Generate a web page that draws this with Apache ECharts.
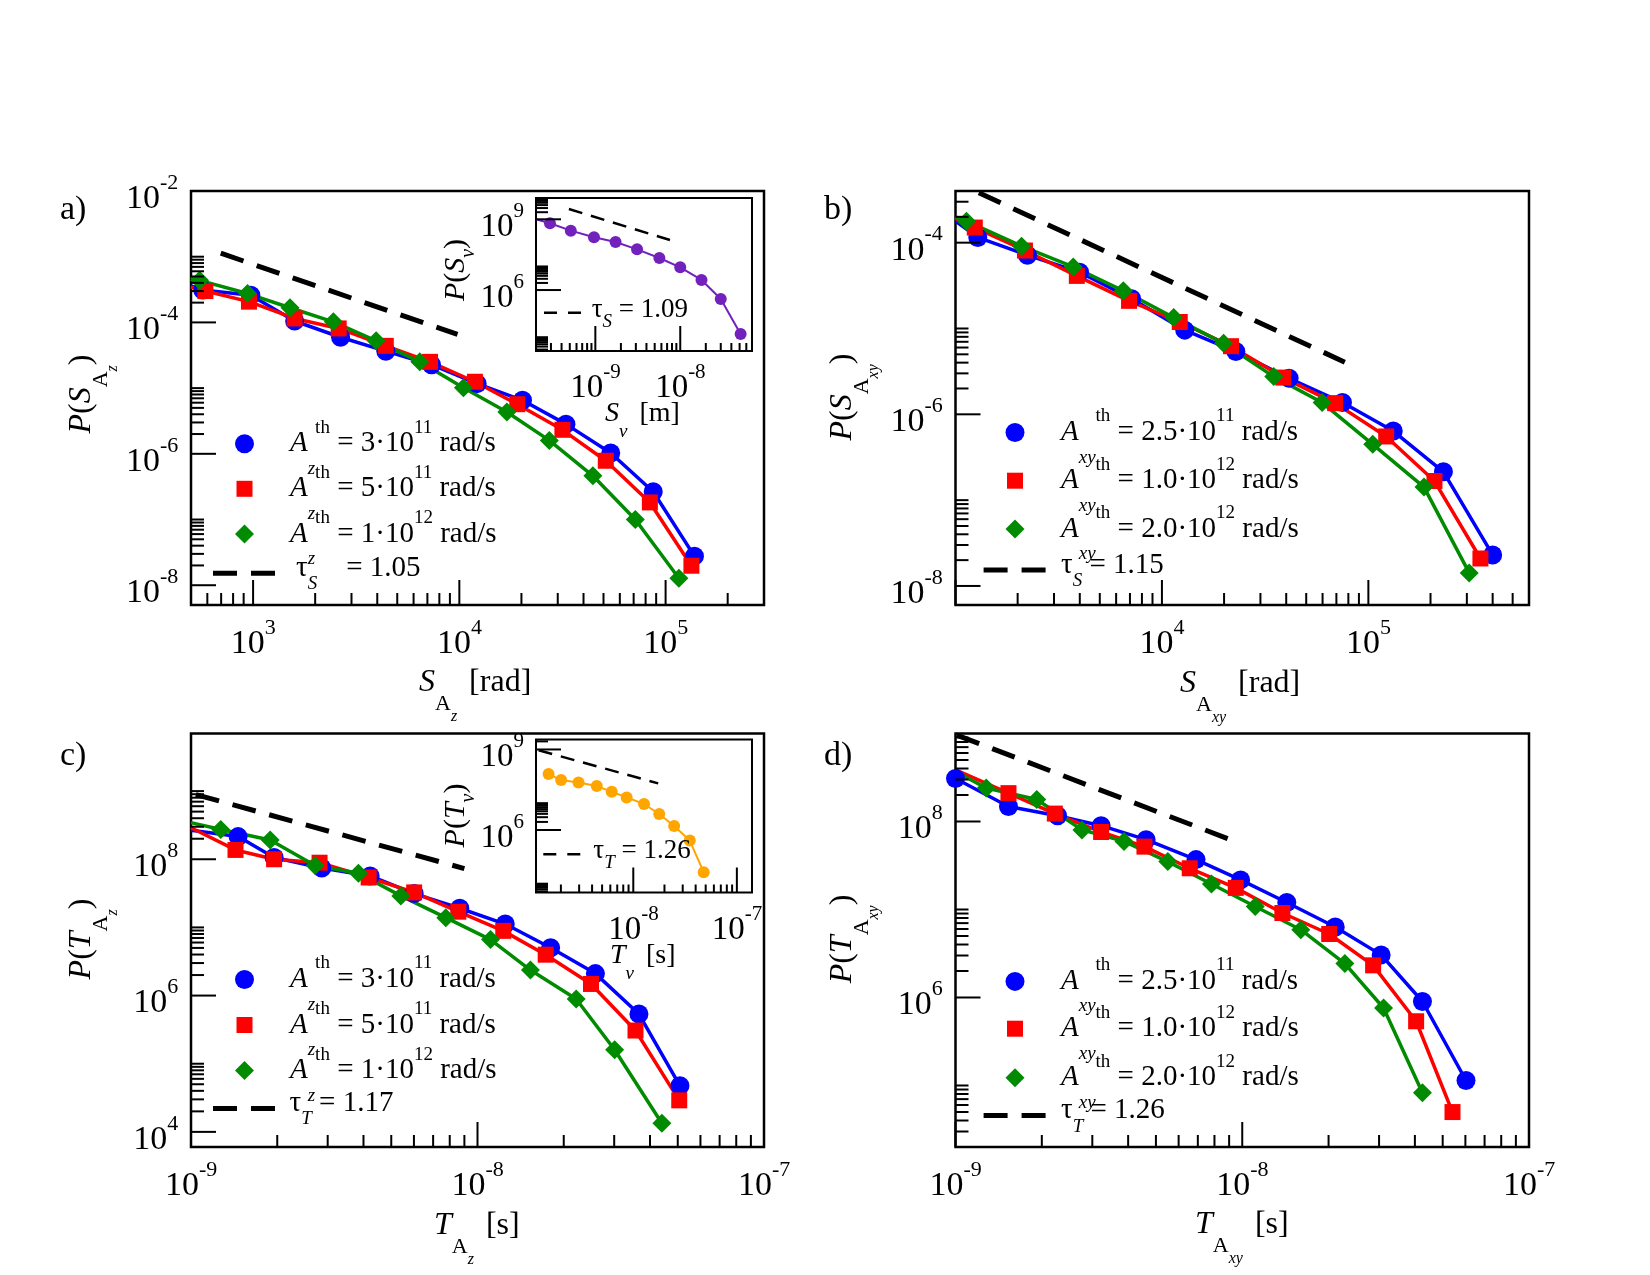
<!DOCTYPE html>
<html>
<head>
<meta charset="utf-8">
<script src="https://cdn.jsdelivr.net/npm/echarts@6/dist/echarts.min.js"></script>
<style>
  html, body { margin: 0; padding: 0; background: #fff; }
  #chart { width: 1650px; height: 1275px; }
</style>
</head>
<body>
<div id="chart"></div>
<script>
const FONT = '"Liberation Serif", "Times New Roman", serif';

// ---- data: [x, P(x)] ----
// a) S_Az
const aBlue = [[570,3.12e-4],[975,2.59e-4],[1590,1.05e-4],[2654,5.94e-5],[4400,3.65e-5],[7330,2.27e-5],[12200,1.17e-5],[20240,6.53e-6],[32870,2.83e-6],[54200,1.03e-6],[87100,2.65e-7],[138000,2.77e-8]];
const aRed = [[587,3.0e-4],[955,2.07e-4],[1590,1.15e-4],[2600,8.1e-5],[4400,4.4e-5],[7210,2.51e-5],[11900,1.25e-5],[19100,5.69e-6],[31600,2.32e-6],[51300,7.84e-7],[83900,1.82e-7],[133400,1.98e-8]];
const aGreen = [[550,4.37e-4],[940,2.75e-4],[1510,1.67e-4],[2450,1.02e-4],[3950,5.24e-5],[6430,2.51e-5],[10470,1.01e-5],[17000,4.33e-6],[27300,1.6e-6],[44400,4.63e-7],[71300,1.0e-7],[116000,1.28e-8]];
const aTau = [[697,1.13e-3],[9800,6.56e-5]];
// b) S_Axy
const bBlue = [[1282,1.15e-4],[2230,7.15e-5],[3990,4.52e-5],[7130,2.22e-5],[12900,9.57e-6],[22800,5.39e-6],[41300,2.63e-6],[74900,1.37e-6],[132000,6.38e-7],[231000,2.14e-7],[400000,2.3e-8]];
const bRed = [[1240,1.5e-4],[2170,8.1e-5],[3870,4.1e-5],[6930,2.1e-5],[12200,1.19e-5],[21600,6.22e-6],[38700,2.68e-6],[69000,1.35e-6],[122000,5.52e-7],[209000,1.67e-7],[349000,2.09e-8]];
const bGreen = [[1130,1.78e-4],[2090,9.1e-5],[3720,5.22e-5],[6500,2.75e-5],[11400,1.34e-5],[19900,6.71e-6],[34800,2.75e-6],[59700,1.37e-6],[105000,4.47e-7],[186000,1.42e-7],[308000,1.42e-8]];
const bTau = [[1297,3.82e-4],[76900,4.05e-6]];
// c) T_Az
const cBlue = [[1.46e-9,2.15e8],[1.95e-9,1.06e8],[2.86e-9,7.45e7],[4.22e-9,5.68e7],[6.01e-9,3.14e7],[8.67e-9,1.91e7],[1.25e-8,1.12e7],[1.8e-8,5.04e6],[2.58e-8,2.1e6],[3.66e-8,5.35e5],[5.09e-8,4.75e4]];
const cRed = [[1.43e-9,1.37e8],[1.95e-9,1.0e8],[2.81e-9,8.9e7],[4.17e-9,5.4e7],[6.01e-9,3.26e7],[8.57e-9,1.7e7],[1.23e-8,8.9e6],[1.73e-8,3.98e6],[2.49e-8,1.48e6],[3.56e-8,3.07e5],[5.06e-8,2.9e4]];
const cGreen = [[1.27e-9,2.73e8],[1.89e-9,1.92e8],[2.71e-9,8.1e7],[3.84e-9,6.24e7],[5.4e-9,2.9e7],[7.75e-9,1.39e7],[1.11e-8,6.62e6],[1.53e-8,2.37e6],[2.21e-8,8.9e5],[3.01e-8,1.6e5],[4.4e-8,1.34e4]];
const cTau = [[1.04e-9,8.9e8],[9.0e-9,7.3e7]];
// d) T_Axy
const dBlue = [[1e-9,3.08e8],[1.53e-9,1.48e8],[2.27e-9,1.16e8],[3.22e-9,8.96e7],[4.62e-9,6.22e7],[6.9e-9,3.69e7],[9.87e-9,2.17e7],[1.43e-8,1.2e7],[2.11e-8,6.33e6],[3.05e-8,3.05e6],[4.25e-8,9.0e5],[6.03e-8,1.14e5]];
const dRed = [[1.53e-9,2.1e8],[2.22e-9,1.23e8],[3.22e-9,7.6e7],[4.56e-9,5.18e7],[6.56e-9,2.94e7],[9.49e-9,1.76e7],[1.38e-8,9.12e6],[2.01e-8,5.27e6],[2.86e-8,2.32e6],[4.04e-8,5.37e5],[5.41e-8,4.99e4]];
const dGreen = [[1.28e-9,2.4e8],[1.92e-9,1.78e8],[2.76e-9,8.03e7],[3.87e-9,5.94e7],[5.5e-9,3.5e7],[7.81e-9,1.95e7],[1.11e-8,1.08e7],[1.6e-8,5.89e6],[2.28e-8,2.43e6],[3.11e-8,7.6e5],[4.25e-8,8.27e4]];
const dTau = [[1.01e-9,9.6e8],[8.95e-9,6.34e7]];
// insets
const sv = [[2.92e-10,6.76e8],[5.14e-10,3.3e8],[9.64e-10,1.72e8],[1.73e-9,1.09e8],[3.1e-9,5.33e7],[5.68e-9,2.29e7],[1.0e-8,9.2e6],[1.78e-8,2.67e6],[3.0e-8,4.17e5],[5.14e-8,1.36e4]];
const svTau = [[4.88e-10,2.73e9],[7.57e-9,1.32e8]];
const tv = [[1.52e-9,1.21e8],[2.01e-9,7.24e7],[2.96e-9,5.93e7],[4.44e-9,4.33e7],[6.19e-9,2.67e7],[8.63e-9,1.64e7],[1.27e-8,9.3e6],[1.78e-8,3.94e6],[2.48e-8,1.41e6],[3.51e-8,4.03e5],[4.78e-8,2.68e4]];
const tvTau = [[1.22e-9,9.4e8],[1.74e-8,5.45e7]];

// where each curve enters through the left frame (no marker there)
const aEdge = [3.6e-4, 3.45e-4, 4.9e-4];
const bEdge = [1.78e-4, 1.92e-4, 2.0e-4];
const cEdge = [2.67e8, 2.9e8, 3.45e8];
const dEdge = [null, 3.86e8, 3.69e8];
const svEdge = 1e9;

// ---- axis ranges and tick decades (exponents) ----
const aXRange = [500, 3e5],      aYRange = [5e-9, 1e-2];
const bXRange = [1e3, 6e5],      bYRange = [6e-9, 4e-4];
const cXRange = [1e-9, 1e-7],    cYRange = [6e3, 7e9];
const dXRange = [1e-9, 1e-7],    dYRange = [2e4, 1e9];
const svXRange = [2e-10, 7e-8],  svYRange = [2.6e3, 8e9];
const tvXRange = [1.15e-9, 1.4e-7], tvYRange = [4.7e3, 2.35e9];

const aXMajor = [2, 3, 4, 5],      aXLabels = [3, 4, 5];
const aYMajor = [-10, -8, -6, -4, -2], aYLabels = [-8, -6, -4, -2];
const bXMajor = [3, 4, 5],         bXLabels = [4, 5];
const bYMajor = [-10, -8, -6, -4], bYLabels = [-8, -6, -4];
const cXMajor = [-9, -8, -7],      cXLabels = [-9, -8, -7];
const cYMajor = [2, 4, 6, 8],      cYLabels = [4, 6, 8];
const dXMajor = [-9, -8, -7],      dXLabels = [-9, -8, -7];
const dYMajor = [4, 6, 8],         dYLabels = [6, 8];
const svXMajor = [-10, -9, -8],    svXLabels = [-9, -8];
const svYMajor = [3, 6, 9],        svYLabels = [6, 9];
const tvXMajor = [-9, -8, -7],     tvXLabels = [-8, -7];
const tvYMajor = [3, 6, 9],        tvYLabels = [6, 9];

// ---- legend texts ----
const azLegend = ['3·10', '5·10', '1·10'], azExp = ['11', '11', '12'];
const axyLegend = ['2.5·10', '1.0·10', '2.0·10'], axyExp = ['11', '12', '12'];

const BLUE = '#0000ff', RED = '#ff0000', GREEN = '#008b00', INDIGO = '#7221bc', ORANGE = '#ffa500';

// minor ticks at k*10^e (k = 2..10), xmgrace style
function buildTicks(xr, yr, xMaj, xLab, yMaj, yLab, L) {
  const out = [];
  const inR = (v, r) => v >= r[0] * 0.9999 && v <= r[1] * 1.0001;
  xMaj.forEach(e => {
    const v = Math.pow(10, e);
    if (inR(v, xr)) out.push([v, yr[0], 0, L.xMaj, e, xLab.includes(e) ? 1 : 0]);
    for (let k = 2; k <= 10; k++) {
      if (k === 10 && xMaj.includes(e + 1)) continue;
      const m = k * v;
      if (m > xr[0] * 1.0001 && m < xr[1] * 0.9999) out.push([m, yr[0], 0, L.xMin, 0, 0]);
    }
  });
  yMaj.forEach(e => {
    const v = Math.pow(10, e);
    if (inR(v, yr)) out.push([xr[0], v, 1, L.yMaj, e, yLab.includes(e) ? 1 : 0]);
    for (let k = 2; k <= 10; k++) {
      if (k === 10 && yMaj.includes(e + 1)) continue;
      const m = k * v;
      if (m > yr[0] * 1.0001 && m < yr[1] * 0.9999) out.push([xr[0], m, 1, L.yMin, 0, 0]);
    }
  });
  return out;
}

const MAIN_T = {xMaj: 25, xMin: 12, yMaj: 25, yMin: 13};
const INSET_T = {xMaj: 25, xMin: 8, yMaj: 25, yMin: 12};
const MAIN_L = {fs: 34, es: 22, xOff: 31.5, yOff: 12.7};
const INSET_L = {fs: 33, es: 21, xOff: 29.5, yOff: 12};

// token height drives top/bottom placement inside the line box
function tok(font, h, va) {
  const o = {font: font, lineHeight: h, height: h};
  if (va) o.verticalAlign = va;
  return o;
}

function labelRich(L) {
  return {
    h: tok('1px ' + FONT, 52),
    b: tok(L.fs + 'px ' + FONT, 36, 'bottom'),
    e: tok(L.es + 'px ' + FONT, 36, 'top')
  };
}

function tickSeries(grid, ticks, L) {
  const rich = labelRich(L);
  return {
    type: 'custom', xAxisIndex: grid, yAxisIndex: grid, data: ticks,
    silent: true, clip: false, z: 5, animation: false,
    renderItem: function (params, api) {
      const p = api.coord([api.value(0), api.value(1)]);
      const dir = api.value(2), len = api.value(3), ex = api.value(4), lab = api.value(5);
      const end = dir === 0 ? [p[0], p[1] - len] : [p[0] + len, p[1]];
      const children = [{
        type: 'line',
        shape: {x1: p[0], y1: p[1], x2: end[0], y2: end[1]},
        style: {stroke: '#000', lineWidth: 2}
      }];
      if (lab === 1) {
        children.push({
          type: 'text',
          x: dir === 0 ? p[0] : p[0] - L.yOff,
          y: dir === 0 ? p[1] + L.xOff : p[1],
          style: {
            text: '{h| }{b|10}{e|' + ex + '}', rich: rich, fill: '#000',
            align: dir === 0 ? 'center' : 'right', verticalAlign: 'middle'
          }
        });
      }
      return {type: 'group', children: children};
    }
  };
}

function withEdge(data, xMin, yEdge) {
  if (yEdge == null) return data;
  return [{value: [xMin, yEdge], symbol: 'none'}].concat(data);
}

function dataSeries(name, data, grid, color, symbol, size, width) {
  return {
    name, type: 'line', xAxisIndex: grid, yAxisIndex: grid, data,
    symbol, symbolSize: size, showSymbol: true, showAllSymbol: true,
    color, itemStyle: {color, borderWidth: 0},
    lineStyle: {color, width: width || 3.5},
    z: 3, silent: true, animation: false
  };
}

function tauSeries(name, data, grid, width, dash) {
  return {
    name, type: 'line', xAxisIndex: grid, yAxisIndex: grid, data,
    symbol: 'none', color: '#000', itemStyle: {color: '#000', borderWidth: 0},
    lineStyle: {color: '#000', width, type: dash},
    z: 3, silent: true, animation: false
  };
}

// ---- legends (one per entry) ----
function rt(size, h, va, italic) {
  const o = {fontFamily: FONT, fontSize: size, lineHeight: h, height: h};
  if (va) o.verticalAlign = va;
  if (italic) o.fontStyle = 'italic';
  return o;
}
function markerRich(sp) {
  return {
    g: {width: sp, lineHeight: 80, height: 80, fontSize: 10},
    A: rt(29, 80, null, true),
    s: rt(19, 30, 'bottom', true),
    p: rt(19, 48, 'top'),
    t: rt(29, 80)
  };
}
function tauRich(sp, inset) {
  const fs = inset ? 27 : 29;
  const H = inset ? 40 : 60, hb = inset ? 34 : 50, hs = inset ? 22 : 38;
  return {
    g: {width: sp, lineHeight: H, height: H, fontSize: 10},
    t: rt(fs, hb, 'top'),
    s: rt(19, hs, 'bottom', true)
  };
}
function markerLegend(name, icon, size, left, cy, sub, val, ex, sp) {
  const txt = '{g| }{A|A}{s|' + sub + '}{p|th}{t| = ' + val + '}{p|' + ex + '}{t| rad/s}';
  return {
    data: [{name, icon}], left, top: cy - 40, padding: 0, orient: 'horizontal', align: 'left',
    itemWidth: size, itemHeight: size, selectedMode: false, itemStyle: {borderWidth: 0},
    formatter: () => txt,
    textStyle: {color: '#000', fontFamily: FONT, fontSize: 29, rich: markerRich(sp)}
  };
}
const DASH_MAIN = 'path://M0,0h24v5h-24z M38,0h24v5h-24z';
const DASH_INSET = 'path://M0,0h13v2.5h-13z M24,0h13v2.5h-13z';
function tauLegend(name, left, cy, sym, txtAfter, sp, inset) {
  const txt = '{g| }{t|τ}{s|' + sym + '}{t|' + txtAfter + '}';
  const H = inset ? 40 : 60;
  return {
    data: [{name, icon: inset ? DASH_INSET : DASH_MAIN}], left, top: cy - H / 2, padding: 0,
    orient: 'horizontal', align: 'left',
    itemWidth: inset ? 37 : 62, itemHeight: inset ? 2.5 : 5,
    selectedMode: false, itemStyle: {borderWidth: 0},
    formatter: () => txt,
    textStyle: {color: '#000', fontFamily: FONT, fontSize: inset ? 27 : 29, rich: tauRich(sp, inset)}
  };
}

// ---- text helpers (axis titles, panel labels) ----
const XT_RICH = {
  I: tok('italic 32px ' + FONT, 90),
  A: tok('22px ' + FONT, 48, 'bottom'),
  z: tok('italic 16px ' + FONT, 22, 'bottom'),
  t: Object.assign(tok('32px ' + FONT, 90), {padding: [0, 0, 0, 4]})
};
const YT_RICH = {
  I: tok('italic 32px ' + FONT, 80),
  t: tok('32px ' + FONT, 80),
  A: tok('22px ' + FONT, 42, 'bottom'),
  z: tok('italic 16px ' + FONT, 18, 'bottom')
};
const IXT_RICH = {
  I: tok('italic 28px ' + FONT, 60),
  v: tok('italic 19px ' + FONT, 25, 'bottom'),
  t: Object.assign(tok('28px ' + FONT, 60), {padding: [0, 0, 0, 5]})
};
const IYT_RICH = {
  I: tok('italic 30px ' + FONT, 60),
  t: tok('30px ' + FONT, 60),
  v: tok('italic 20px ' + FONT, 34, 'bottom')
};
const PL_RICH = {t: {font: '34px ' + FONT}};

function gText(x, y, text, rich, align, rot) {
  return {
    type: 'text', x, y, rotation: rot || 0, silent: true, z: 10,
    style: {text, rich, fill: '#000', align: align || 'left', verticalAlign: 'middle'}
  };
}

const grids = [
  {left: 191, top: 191, width: 573, height: 414},
  {left: 955.5, top: 191, width: 573.5, height: 414},
  {left: 191, top: 733.5, width: 573, height: 413.5},
  {left: 955.5, top: 733.5, width: 573.5, height: 413.5},
  {left: 536, top: 198, width: 216, height: 153},
  {left: 536, top: 739.5, width: 216, height: 153}
].map((g, i) => Object.assign(g, {
  show: true, borderColor: '#000', borderWidth: i < 4 ? 2.5 : 2,
  backgroundColor: 'transparent', containLabel: false, outerBoundsMode: 'none'
}));

const ranges = [
  [aXRange, aYRange], [bXRange, bYRange], [cXRange, cYRange],
  [dXRange, dYRange], [svXRange, svYRange], [tvXRange, tvYRange]
];
function logAxis(r, i) {
  return {
    type: 'log', logBase: 10, gridIndex: i, min: r[0], max: r[1],
    axisLine: {show: false}, axisTick: {show: false},
    axisLabel: {show: false}, splitLine: {show: false}
  };
}

const series = [
  dataSeries('a1', withEdge(aBlue, aXRange[0], aEdge[0]), 0, BLUE, 'circle', 19),
  dataSeries('a2', withEdge(aRed, aXRange[0], aEdge[1]), 0, RED, 'rect', 16),
  dataSeries('a3', withEdge(aGreen, aXRange[0], aEdge[2]), 0, GREEN, 'diamond', 19),
  tauSeries('a4', aTau, 0, 5, [24, 14]),
  dataSeries('b1', withEdge(bBlue, bXRange[0], bEdge[0]), 1, BLUE, 'circle', 19),
  dataSeries('b2', withEdge(bRed, bXRange[0], bEdge[1]), 1, RED, 'rect', 16),
  dataSeries('b3', withEdge(bGreen, bXRange[0], bEdge[2]), 1, GREEN, 'diamond', 19),
  tauSeries('b4', bTau, 1, 5, [24, 14]),
  dataSeries('c1', withEdge(cBlue, cXRange[0], cEdge[0]), 2, BLUE, 'circle', 19),
  dataSeries('c2', withEdge(cRed, cXRange[0], cEdge[1]), 2, RED, 'rect', 16),
  dataSeries('c3', withEdge(cGreen, cXRange[0], cEdge[2]), 2, GREEN, 'diamond', 19),
  tauSeries('c4', cTau, 2, 5, [24, 14]),
  dataSeries('d1', withEdge(dBlue, dXRange[0], dEdge[0]), 3, BLUE, 'circle', 19),
  dataSeries('d2', withEdge(dRed, dXRange[0], dEdge[1]), 3, RED, 'rect', 16),
  dataSeries('d3', withEdge(dGreen, dXRange[0], dEdge[2]), 3, GREEN, 'diamond', 19),
  tauSeries('d4', dTau, 3, 5, [24, 14]),
  dataSeries('e1', withEdge(sv, svXRange[0], svEdge), 4, INDIGO, 'circle', 12, 2),
  tauSeries('e2', svTau, 4, 2.5, [14, 9]),
  dataSeries('f1', tv, 5, ORANGE, 'circle', 12, 2),
  tauSeries('f2', tvTau, 5, 2.5, [14, 9]),
  tickSeries(0, buildTicks(aXRange, aYRange, aXMajor, aXLabels, aYMajor, aYLabels, MAIN_T), MAIN_L),
  tickSeries(1, buildTicks(bXRange, bYRange, bXMajor, bXLabels, bYMajor, bYLabels, MAIN_T), MAIN_L),
  tickSeries(2, buildTicks(cXRange, cYRange, cXMajor, cXLabels, cYMajor, cYLabels, MAIN_T), MAIN_L),
  tickSeries(3, buildTicks(dXRange, dYRange, dXMajor, dXLabels, dYMajor, dYLabels, MAIN_T), MAIN_L),
  tickSeries(4, buildTicks(svXRange, svYRange, svXMajor, svXLabels, svYMajor, svYLabels, INSET_T), INSET_L),
  tickSeries(5, buildTicks(tvXRange, tvYRange, tvXMajor, tvXLabels, tvYMajor, tvYLabels, INSET_T), INSET_L)
];

const legends = [
  markerLegend('a1', 'circle', 19, 235, 443.8, 'z', azLegend[0], azExp[0], 31),
  markerLegend('a2', 'rect', 16, 236.5, 488.8, 'z', azLegend[1], azExp[1], 32.5),
  markerLegend('a3', 'diamond', 19, 235, 534, 'z', azLegend[2], azExp[2], 31),
  tauLegend('a4', 213, 573.3, 'S', '    = 1.05', 16),
  markerLegend('b1', 'circle', 19, 1005.5, 432.5, 'xy', axyLegend[0], axyExp[0], 31.5),
  markerLegend('b2', 'rect', 16, 1007, 480.7, 'xy', axyLegend[1], axyExp[1], 33),
  markerLegend('b3', 'diamond', 19, 1005.5, 529, 'xy', axyLegend[2], axyExp[2], 31.5),
  tauLegend('b4', 983.6, 570, 'S', ' = 1.15', 10.4),
  markerLegend('c1', 'circle', 19, 235, 979.5, 'z', azLegend[0], azExp[0], 31),
  markerLegend('c2', 'rect', 16, 236.5, 1025, 'z', azLegend[1], azExp[1], 32.5),
  markerLegend('c3', 'diamond', 19, 235, 1070.6, 'z', azLegend[2], azExp[2], 31),
  tauLegend('c4', 213, 1108.4, 'T', ' = 1.17', 9.6),
  markerLegend('d1', 'circle', 19, 1005.5, 981.4, 'xy', axyLegend[0], axyExp[0], 31.5),
  markerLegend('d2', 'rect', 16, 1007, 1028.7, 'xy', axyLegend[1], axyExp[1], 33),
  markerLegend('d3', 'diamond', 19, 1005.5, 1077.7, 'xy', axyLegend[2], axyExp[2], 31.5),
  tauLegend('d4', 983.6, 1115.5, 'T', ' = 1.26', 10.4),
  tauLegend('e2', 544, 312.7, 'S', ' = 1.09', 5.7, true),
  tauLegend('f2', 543.3, 854.3, 'T', ' = 1.26', 8, true)
];

const texts = [
  gText(60, 210.5, '{t|a)}', PL_RICH),
  gText(824, 210.5, '{t|b)}', PL_RICH),
  gText(60, 755.6, '{t|c)}', PL_RICH),
  gText(824, 755.6, '{t|d)}', PL_RICH),
  gText(419, 683, '{I|S}{A|A}{z|z}{t| [rad]}', XT_RICH),
  gText(1180, 684, '{I|S}{A|A}{z|xy}{t| [rad]}', XT_RICH),
  gText(434, 1226, '{I|T}{A|A}{z|z}{t| [s]}', XT_RICH),
  gText(1195, 1225, '{I|T}{A|A}{z|xy}{t| [s]}', XT_RICH),
  gText(82, 394, '{I|P}{t|(}{I|S}{A|A}{z|z}{t|)}', YT_RICH, 'center', Math.PI / 2),
  gText(843, 397, '{I|P}{t|(}{I|S}{A|A}{z|xy}{t|)}', YT_RICH, 'center', Math.PI / 2),
  gText(82, 939, '{I|P}{t|(}{I|T}{A|A}{z|z}{t|)}', YT_RICH, 'center', Math.PI / 2),
  gText(843, 939, '{I|P}{t|(}{I|T}{A|A}{z|xy}{t|)}', YT_RICH, 'center', Math.PI / 2),
  gText(605, 414, '{I|S}{v|v}{t| [m]}', IXT_RICH),
  gText(610, 956, '{I|T}{v|v}{t| [s]}', IXT_RICH),
  gText(456, 270, '{I|P}{t|(}{I|S}{v|v}{t|)}', IYT_RICH, 'center', Math.PI / 2),
  gText(456, 815.5, '{I|P}{t|(}{I|T}{v|v}{t|)}', IYT_RICH, 'center', Math.PI / 2)
];

const chart = echarts.init(document.getElementById('chart'), null, {width: 1650, height: 1275, renderer: 'canvas'});
chart.setOption({
  backgroundColor: '#fff',
  animation: false,
  textStyle: {fontFamily: FONT},
  grid: grids,
  xAxis: ranges.map((r, i) => logAxis(r[0], i)),
  yAxis: ranges.map((r, i) => logAxis(r[1], i)),
  legend: legends,
  series: series,
  graphic: {elements: texts}
});
</script>
</body>
</html>
